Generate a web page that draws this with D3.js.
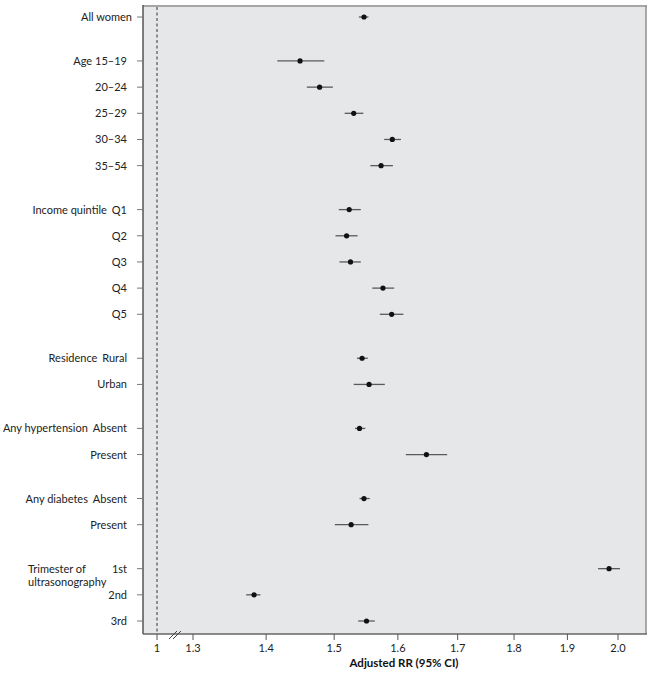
<!DOCTYPE html>
<html>
<head>
<meta charset="utf-8">
<script src="https://cdn.jsdelivr.net/npm/d3@7"></script>
<style>
  html, body { margin: 0; padding: 0; background: #ffffff; }
  svg { display: block; font-family: Lato, "Open Sans", "DejaVu Sans", sans-serif; }
</style>
</head>
<body>
<svg id="chart" width="653" height="675"></svg>
<script>
// ---- Data ----
const categories = ["All women", "15–19", "20–24", "25–29", "30–34", "35–54",
  "Q1", "Q2", "Q3", "Q4", "Q5", "Rural", "Urban", "Absent", "Present",
  "Absent", "Present", "1st", "2nd", "3rd"];
const groups = ["", "Age", "Age", "Age", "Age", "Age",
  "Income quintile", "Income quintile", "Income quintile", "Income quintile", "Income quintile",
  "Residence", "Residence", "Any hypertension", "Any hypertension",
  "Any diabetes", "Any diabetes",
  "Trimester of ultrasonography", "Trimester of ultrasonography", "Trimester of ultrasonography"];
const rr    = [1.546, 1.449, 1.478, 1.530, 1.591, 1.573, 1.523, 1.519, 1.525, 1.576, 1.590, 1.543, 1.554, 1.539, 1.647, 1.546, 1.526, 1.982, 1.383, 1.550];
const lower = [1.538, 1.416, 1.459, 1.516, 1.578, 1.556, 1.507, 1.502, 1.508, 1.559, 1.571, 1.535, 1.530, 1.532, 1.613, 1.539, 1.501, 1.960, 1.372, 1.537];
const upper = [1.553, 1.485, 1.498, 1.545, 1.605, 1.592, 1.541, 1.536, 1.541, 1.594, 1.609, 1.552, 1.579, 1.548, 1.682, 1.555, 1.553, 2.004, 1.392, 1.563];
const tickValues = [1, 1.3, 1.4, 1.5, 1.6, 1.7, 1.8, 1.9, 2.0];
const tickLabels = ["1", "1.3", "1.4", "1.5", "1.6", "1.7", "1.8", "1.9", "2.0"];
const refValue = 1;
const axisTitle = "Adjusted RR (95% CI)";

// ---- Layout ----
const panel = { left: 143, right: 646, top: 6, bottom: 634 };
const FS = 11;
const svg = d3.select("#chart");

// broken log axis: 1 sits left of the break, 1.3–2.0 on a log scale
const xLog = d3.scaleLog().domain([1.3, 2.0]).range([193, 618]);
const xLow = d3.scaleLinear().domain([1.0, 1.3]).range([157, 193]);
const x = v => v >= 1.3 ? xLog(v) : xLow(v);

// row positions with gaps between groups
const pos = [];
categories.forEach((c, i) => {
  if (i === 0) pos.push(0);
  else pos.push(pos[i - 1] + (groups[i] !== groups[i - 1] ? 1.68 : 1));
});
const y = d3.scaleLinear().domain([0, pos[pos.length - 1]]).range([17, 621]);

const rows = categories.map((c, i) => ({
  cat: c, group: groups[i], rr: rr[i], lo: lower[i], hi: upper[i], p: pos[i],
  first: i === 0 || groups[i] !== groups[i - 1]
}));

// panel background
svg.append("rect")
  .attr("x", panel.left).attr("y", panel.top)
  .attr("width", panel.right - panel.left).attr("height", panel.bottom - panel.top)
  .attr("fill", "#e6e7e9");

// borders
svg.append("line").attr("x1", panel.left).attr("x2", panel.right + 1)
  .attr("y1", panel.top).attr("y2", panel.top)
  .attr("stroke", "#a6a6a6").attr("stroke-width", 2);
svg.append("line").attr("x1", panel.right).attr("x2", panel.right)
  .attr("y1", panel.top).attr("y2", panel.bottom)
  .attr("stroke", "#8f8f8f").attr("stroke-width", 1.5);
svg.append("line").attr("x1", panel.left).attr("x2", panel.left)
  .attr("y1", panel.top - 1).attr("y2", panel.bottom)
  .attr("stroke", "#555").attr("stroke-width", 1.5);
svg.append("line").attr("x1", panel.left).attr("x2", panel.right + 1)
  .attr("y1", panel.bottom).attr("y2", panel.bottom)
  .attr("stroke", "#666").attr("stroke-width", 1.5);

// reference line
svg.append("line")
  .attr("x1", x(refValue)).attr("x2", x(refValue))
  .attr("y1", panel.top + 1).attr("y2", panel.bottom)
  .attr("stroke", "#333").attr("stroke-width", 1)
  .attr("stroke-dasharray", "3,2.5");

// x axis ticks and labels
const xg = svg.append("g");
tickValues.forEach((v, i) => {
  xg.append("line").attr("x1", x(v)).attr("x2", x(v))
    .attr("y1", panel.bottom).attr("y2", panel.bottom + 6)
    .attr("stroke", "#555").attr("stroke-width", 1);
  xg.append("text").attr("x", x(v)).attr("y", panel.bottom + 18)
    .attr("text-anchor", "middle").attr("font-size", FS).attr("fill", "#222")
    .text(tickLabels[i]);
});

// axis break marks
const bx = (x(refValue) + x(1.3)) / 2;
[-2, 2].forEach(d => {
  svg.append("line")
    .attr("x1", bx + d - 4).attr("y1", panel.bottom + 5)
    .attr("x2", bx + d + 4).attr("y2", panel.bottom - 3)
    .attr("stroke", "#444").attr("stroke-width", 1);
});

// axis title
svg.append("text")
  .attr("x", 404).attr("y", panel.bottom + 33)
  .attr("text-anchor", "middle").attr("font-size", FS + 0.5).attr("font-weight", "bold")
  .attr("fill", "#111").text(axisTitle);

// y ticks and labels
const yg = svg.append("g");
rows.forEach(r => {
  const yy = y(r.p);
  yg.append("line").attr("x1", panel.left - 6).attr("x2", panel.left)
    .attr("y1", yy).attr("y2", yy).attr("stroke", "#777").attr("stroke-width", 1);
  if (!r.group) {
    yg.append("text").attr("x", 132).attr("y", yy + 4)
      .attr("text-anchor", "end").attr("font-size", FS).attr("fill", "#222")
      .text(r.cat);
  } else if (r.first && r.group.startsWith("Trimester")) {
    yg.append("text").attr("x", 127).attr("y", yy + 4)
      .attr("text-anchor", "end").attr("font-size", FS).attr("fill", "#222")
      .text(r.cat);
    const t = yg.append("text").attr("x", 28).attr("y", yy + 4)
      .attr("font-size", FS).attr("fill", "#222");
    const parts = r.group.split(" ");
    t.append("tspan").attr("x", 28).text(parts.slice(0, 2).join(" "));
    t.append("tspan").attr("x", 28).attr("dy", 13.5).text(parts.slice(2).join(" "));
  } else if (r.first) {
    const t = yg.append("text").attr("x", 127).attr("y", yy + 4)
      .attr("text-anchor", "end").attr("font-size", FS).attr("fill", "#222");
    t.append("tspan").text(r.group);
    t.append("tspan").attr("dx", r.group === "Age" ? 3 : 5).text(r.cat);
  } else {
    yg.append("text").attr("x", 127).attr("y", yy + 4)
      .attr("text-anchor", "end").attr("font-size", FS).attr("fill", "#222")
      .text(r.cat);
  }
});

// CI lines
svg.append("g").selectAll("line").data(rows).join("line")
  .attr("x1", d => x(d.lo)).attr("x2", d => x(d.hi))
  .attr("y1", d => y(d.p)).attr("y2", d => y(d.p))
  .attr("stroke", "#5a5a5a").attr("stroke-width", 1.3);

// points
svg.append("g").selectAll("circle").data(rows).join("circle")
  .attr("cx", d => x(d.rr)).attr("cy", d => y(d.p)).attr("r", 2.6)
  .attr("fill", "#111");
</script>
</body>
</html>
